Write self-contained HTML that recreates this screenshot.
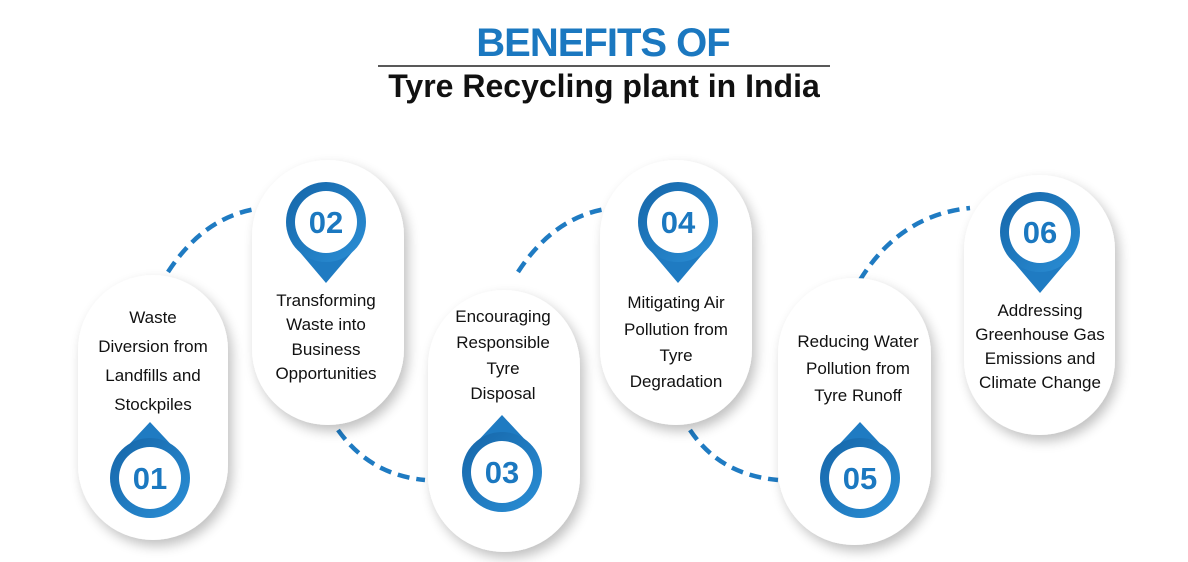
<!DOCTYPE html>
<html><head><meta charset="utf-8"><style>
html,body{margin:0;padding:0;background:#fff;}
svg{display:block;}
text{font-family:"Liberation Sans",sans-serif;}
</style></head><body>
<svg width="1188" height="562" viewBox="0 0 1188 562" xmlns="http://www.w3.org/2000/svg">
<defs>
<filter id="sh" x="-30%" y="-20%" width="160%" height="140%">
<feGaussianBlur in="SourceAlpha" stdDeviation="6"/>
<feOffset dx="4" dy="6" result="b"/>
<feComponentTransfer><feFuncA type="linear" slope="0.25"/></feComponentTransfer>
<feMerge><feMergeNode/><feMergeNode in="SourceGraphic"/></feMerge>
</filter>
<linearGradient id="bg" x1="0" y1="0" x2="1" y2="1">
<stop offset="0" stop-color="#1565a8"/><stop offset="1" stop-color="#2b8fd6"/>
</linearGradient>
</defs>
<text x="603" y="56" text-anchor="middle" font-size="40" font-weight="bold" fill="#1b78c0" letter-spacing="-1">BENEFITS OF</text>
<line x1="378" y1="66" x2="830" y2="66" stroke="#222" stroke-width="1.5"/>
<text x="604" y="97" text-anchor="middle" font-size="32" font-weight="bold" fill="#111">Tyre Recycling plant in India</text>

<g fill="none" stroke="#1f7bc2" stroke-width="4.5" stroke-dasharray="12 7">
<path d="M168 272 Q205 215 262 208"/>
<path d="M338 430 Q370 475 425 480"/>
<path d="M518 272 Q555 215 612 208"/>
<path d="M690 430 Q720 475 778 480"/>
<path d="M860 280 Q900 215 970 208"/>
</g>

<g filter="url(#sh)" fill="#fff">
<rect x="78" y="275" width="150" height="265" rx="75"/>
<rect x="252" y="160" width="152" height="265" rx="76"/>
<rect x="428" y="290" width="152" height="262" rx="76"/>
<rect x="600" y="160" width="152" height="265" rx="76"/>
<rect x="778" y="278" width="153" height="267" rx="76"/>
<rect x="964" y="175" width="151" height="260" rx="75"/>
</g>

<g font-size="17" fill="#111" text-anchor="middle">
<text x="153" y="323">Waste</text><text x="153" y="352">Diversion from</text><text x="153" y="381">Landfills and</text><text x="153" y="410">Stockpiles</text>
<text x="326" y="306">Transforming</text><text x="326" y="330">Waste into</text><text x="326" y="355">Business</text><text x="326" y="379">Opportunities</text>
<text x="503" y="322">Encouraging</text><text x="503" y="348">Responsible</text><text x="503" y="374">Tyre</text><text x="503" y="399">Disposal</text>
<text x="676" y="308">Mitigating Air</text><text x="676" y="335">Pollution from</text><text x="676" y="361">Tyre</text><text x="676" y="387">Degradation</text>
<text x="858" y="347">Reducing Water</text><text x="858" y="374">Pollution from</text><text x="858" y="401">Tyre Runoff</text>
<text x="1040" y="316">Addressing</text><text x="1040" y="340">Greenhouse Gas</text><text x="1040" y="364">Emissions and</text><text x="1040" y="388">Climate Change</text>
</g>

<g>
<path d="M150 422 L178 452 L122 452 Z" fill="#1f7bc2"/><circle cx="150" cy="478" r="40" fill="url(#bg)"/><circle cx="150" cy="478" r="31" fill="#fff"/>
<path d="M502 415 L530 445 L474 445 Z" fill="#1f7bc2"/><circle cx="502" cy="472" r="40" fill="url(#bg)"/><circle cx="502" cy="472" r="31" fill="#fff"/>
<path d="M860 422 L888 452 L832 452 Z" fill="#1f7bc2"/><circle cx="860" cy="478" r="40" fill="url(#bg)"/><circle cx="860" cy="478" r="31" fill="#fff"/>
<path d="M326 283 L354 250 L298 250 Z" fill="#1f7bc2"/><circle cx="326" cy="222" r="40" fill="url(#bg)"/><circle cx="326" cy="222" r="31" fill="#fff"/>
<path d="M678 283 L706 250 L650 250 Z" fill="#1f7bc2"/><circle cx="678" cy="222" r="40" fill="url(#bg)"/><circle cx="678" cy="222" r="31" fill="#fff"/>
<path d="M1040 293 L1068 260 L1012 260 Z" fill="#1f7bc2"/><circle cx="1040" cy="232" r="40" fill="url(#bg)"/><circle cx="1040" cy="232" r="31" fill="#fff"/>
</g>
<g font-size="31" font-weight="bold" fill="#1b78c0" text-anchor="middle">
<text x="150" y="489">01</text><text x="326" y="233">02</text><text x="502" y="483">03</text>
<text x="678" y="233">04</text><text x="860" y="489">05</text><text x="1040" y="243">06</text>
</g>
</svg>
</body></html>
